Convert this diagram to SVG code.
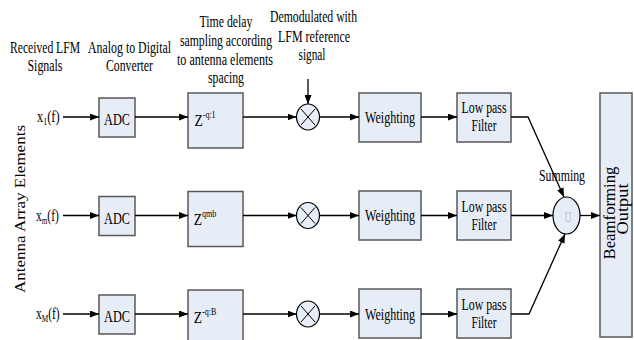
<svg xmlns="http://www.w3.org/2000/svg" width="634" height="340" viewBox="0 0 634 340">
  <defs>
    <style>
      .lbl { font-family: "Liberation Serif", "DejaVu Serif", serif; font-size: 16px; fill: #000; text-anchor: middle; }
      .in { font-family: "Liberation Serif", "DejaVu Serif", serif; font-size: 16px; fill: #000; }
      .blk { font-family: "Liberation Serif", "DejaVu Serif", serif; font-size: 17px; fill: #000; text-anchor: middle; }
      .box { fill: #e7edf7; stroke: #585858; stroke-width: 1.5; }
      .node { fill: #e7edf7; stroke: #000; stroke-width: 1.2; }
      .wire { fill: none; stroke: #000; stroke-width: 1.3; }
      .cross { stroke: #000; stroke-width: 1; }
    </style>
    <marker id="arr" viewBox="0 0 9 7" refX="9" refY="3.5" markerWidth="9" markerHeight="7" markerUnits="userSpaceOnUse" orient="auto">
      <path d="M0,0 L9,3.5 L0,7 z" fill="#000"/>
    </marker>
  </defs>

  <rect width="634" height="340" fill="#fff"/>

  <!-- stage captions -->
  <g id="captions">
    <text class="lbl" x="45" y="53" textLength="70" lengthAdjust="spacingAndGlyphs">Received LFM</text>
    <text class="lbl" x="45" y="71" textLength="35" lengthAdjust="spacingAndGlyphs">Signals</text>
    <text class="lbl" x="129.5" y="53" textLength="83" lengthAdjust="spacingAndGlyphs">Analog to Digital</text>
    <text class="lbl" x="129.5" y="71" textLength="47" lengthAdjust="spacingAndGlyphs">Converter</text>
    <text class="lbl" x="226" y="27" textLength="53" lengthAdjust="spacingAndGlyphs">Time delay</text>
    <text class="lbl" x="226" y="46" textLength="92" lengthAdjust="spacingAndGlyphs">sampling according</text>
    <text class="lbl" x="225" y="65" textLength="96" lengthAdjust="spacingAndGlyphs">to antenna elements</text>
    <text class="lbl" x="226" y="83" textLength="36" lengthAdjust="spacingAndGlyphs">spacing</text>
    <text class="lbl" x="313.5" y="22" textLength="87" lengthAdjust="spacingAndGlyphs">Demodulated with</text>
    <text class="lbl" x="314" y="42" textLength="72" lengthAdjust="spacingAndGlyphs">LFM reference</text>
    <text class="lbl" x="312" y="60" textLength="27" lengthAdjust="spacingAndGlyphs">signal</text>
    <text class="lbl" x="562" y="181" textLength="46" lengthAdjust="spacingAndGlyphs">Summing</text>
    <text class="lbl" transform="translate(25,209) rotate(-90) scale(1,0.85)" textLength="168" lengthAdjust="spacingAndGlyphs">Antenna Array Elements</text>
  </g>

  <!-- input signals (condensed horizontally) -->
  <g id="inputs">
    <text class="in" transform="translate(37,122) scale(0.78,1)">x<tspan font-size="10" dy="3">1</tspan><tspan dy="-3">(f)</tspan></text>
    <text class="in" transform="translate(36,220.5) scale(0.72,1)">x<tspan font-size="10" dy="3">m</tspan><tspan dy="-3">(f)</tspan></text>
    <text class="in" transform="translate(36,319) scale(0.72,1)">x<tspan font-size="10" dy="3">M</tspan><tspan dy="-3">(f)</tspan></text>
  </g>

  <!-- ADC blocks -->
  <g id="adc1">
    <rect class="box" x="99" y="98" width="36" height="39"/>
    <text class="blk" x="117" y="125" textLength="26" lengthAdjust="spacingAndGlyphs">ADC</text>
  </g>
  <g id="adc2">
    <rect class="box" x="99" y="196.5" width="36" height="39"/>
    <text class="blk" x="117" y="223.5" textLength="26" lengthAdjust="spacingAndGlyphs">ADC</text>
  </g>
  <g id="adc3">
    <rect class="box" x="99" y="295" width="36" height="39"/>
    <text class="blk" x="117" y="322" textLength="26" lengthAdjust="spacingAndGlyphs">ADC</text>
  </g>

  <!-- time delay blocks -->
  <g id="delay1">
    <rect class="box" x="188" y="93" width="55" height="55"/>
    <text class="blk" text-anchor="start" transform="translate(205,126) scale(0.8,1)">Z<tspan font-size="10" dy="-8">-q:1</tspan></text>
  </g>
  <g id="delay2">
    <rect class="box" x="188" y="191.5" width="55" height="55"/>
    <text class="blk" text-anchor="start" transform="translate(205,224.5) scale(0.8,1)">Z<tspan font-size="10" dy="-8">qmb</tspan></text>
  </g>
  <g id="delay3">
    <rect class="box" x="188" y="290" width="55" height="55"/>
    <text class="blk" text-anchor="start" transform="translate(205,323) scale(0.8,1)">Z<tspan font-size="10" dy="-8">-q:B</tspan></text>
  </g>

  <!-- demodulation mixers -->
  <g id="mix1">
    <ellipse class="node" cx="308" cy="117" rx="11.5" ry="13"/>
    <path class="cross" d="M301,109 L315,125 M315,109 L301,125"/>
  </g>
  <g id="mix2">
    <ellipse class="node" cx="308" cy="215.5" rx="11.5" ry="13"/>
    <path class="cross" d="M301,207.5 L315,223.5 M315,207.5 L301,223.5"/>
  </g>
  <g id="mix3">
    <ellipse class="node" cx="308" cy="314" rx="11.5" ry="13"/>
    <path class="cross" d="M301,306 L315,322 M315,306 L301,322"/>
  </g>

  <!-- weighting blocks -->
  <g id="weight1">
    <rect class="box" x="359" y="93" width="62" height="49"/>
    <text class="blk" x="390" y="122.5" textLength="50" lengthAdjust="spacingAndGlyphs">Weighting</text>
  </g>
  <g id="weight2">
    <rect class="box" x="359" y="191" width="62" height="49"/>
    <text class="blk" x="390" y="221" textLength="50" lengthAdjust="spacingAndGlyphs">Weighting</text>
  </g>
  <g id="weight3">
    <rect class="box" x="359" y="289" width="62" height="49"/>
    <text class="blk" x="390" y="319.5" textLength="50" lengthAdjust="spacingAndGlyphs">Weighting</text>
  </g>

  <!-- low pass filters -->
  <g id="lpf1">
    <rect class="box" x="457" y="93" width="54" height="49"/>
    <text class="lbl" x="484" y="113" textLength="45" lengthAdjust="spacingAndGlyphs">Low pass</text>
    <text class="lbl" x="484" y="131" textLength="25" lengthAdjust="spacingAndGlyphs">Filter</text>
  </g>
  <g id="lpf2">
    <rect class="box" x="457" y="191" width="54" height="49"/>
    <text class="lbl" x="484" y="211.5" textLength="45" lengthAdjust="spacingAndGlyphs">Low pass</text>
    <text class="lbl" x="484" y="229.5" textLength="25" lengthAdjust="spacingAndGlyphs">Filter</text>
  </g>
  <g id="lpf3">
    <rect class="box" x="457" y="289" width="54" height="49"/>
    <text class="lbl" x="484" y="310" textLength="45" lengthAdjust="spacingAndGlyphs">Low pass</text>
    <text class="lbl" x="484" y="328" textLength="25" lengthAdjust="spacingAndGlyphs">Filter</text>
  </g>

  <!-- summing node -->
  <g id="sum">
    <ellipse class="node" cx="566.5" cy="215.5" rx="13.5" ry="18.5"/>
    <text x="568" y="220" font-family="DejaVu Sans, sans-serif" font-size="13" fill="#b8b8b8" text-anchor="middle">▯</text>
  </g>

  <!-- beamforming output -->
  <g id="output">
    <rect class="box" x="600" y="93" width="32" height="244"/>
    <text class="lbl" transform="translate(615,213) rotate(-90)" textLength="93" lengthAdjust="spacingAndGlyphs">Beamforming</text>
    <text class="lbl" transform="translate(628,209) rotate(-90)" textLength="51" lengthAdjust="spacingAndGlyphs">Output</text>
  </g>

  <!-- connectors -->
  <g id="connectors">
    <path class="wire" d="M63,117 H99" marker-end="url(#arr)"/>
    <path class="wire" d="M135,117 H188" marker-end="url(#arr)"/>
    <path class="wire" d="M243,117 H296.5" marker-end="url(#arr)"/>
    <path class="wire" d="M319.5,117 H359" marker-end="url(#arr)"/>
    <path class="wire" d="M421,117 H457" marker-end="url(#arr)"/>
    <path class="wire" d="M511,117 H528 L564,197" marker-end="url(#arr)"/>

    <path class="wire" d="M63,215.5 H99" marker-end="url(#arr)"/>
    <path class="wire" d="M135,215.5 H188" marker-end="url(#arr)"/>
    <path class="wire" d="M243,215.5 H296.5" marker-end="url(#arr)"/>
    <path class="wire" d="M319.5,215.5 H359" marker-end="url(#arr)"/>
    <path class="wire" d="M421,215.5 H457" marker-end="url(#arr)"/>
    <path class="wire" d="M511,215.5 H553" marker-end="url(#arr)"/>

    <path class="wire" d="M63,314 H99" marker-end="url(#arr)"/>
    <path class="wire" d="M135,314 H188" marker-end="url(#arr)"/>
    <path class="wire" d="M243,314 H296.5" marker-end="url(#arr)"/>
    <path class="wire" d="M319.5,314 H359" marker-end="url(#arr)"/>
    <path class="wire" d="M421,314 H457" marker-end="url(#arr)"/>
    <path class="wire" d="M511,314 H529 L565,234" marker-end="url(#arr)"/>

    <path class="wire" d="M308,79 V104" marker-end="url(#arr)"/>
    <path class="wire" d="M580,215.5 H600" marker-end="url(#arr)"/>
  </g>
</svg>
